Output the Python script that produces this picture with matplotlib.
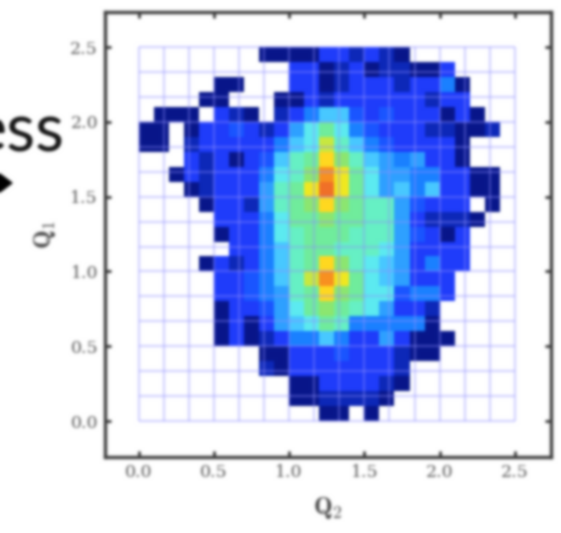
import numpy as np
import matplotlib
matplotlib.use('Agg')
import matplotlib.pyplot as plt
from matplotlib.colors import ListedColormap
from matplotlib.patches import Polygon

# histogram levels, top row (Q1 = 2.5) first, 0 = empty bin
counts = [
    [0,0,0,0,0,0,0,0,1,1,1,1,3,3,2,3,2,1,0,0,0,0,0,0,0],
    [0,0,0,0,0,0,0,0,0,0,3,3,1,2,3,1,2,2,1,1,3,0,0,0,0],
    [0,0,0,0,0,1,1,0,0,0,3,3,1,2,3,3,3,2,3,3,5,1,0,0,0],
    [0,0,0,0,1,1,0,0,0,1,1,3,2,3,3,3,3,3,3,2,3,3,0,0,0],
    [0,1,1,1,0,3,2,1,0,2,3,5,7,7,4,3,4,3,3,3,1,3,1,0,0],
    [1,1,0,1,3,3,4,3,2,3,6,8,10,8,5,4,3,3,3,2,2,1,1,2,0],
    [1,1,0,2,3,3,3,3,3,5,7,8,12,9,7,5,4,3,3,3,3,1,0,0,0],
    [0,0,0,3,2,3,1,3,4,7,9,10,14,11,9,7,6,5,6,3,3,1,0,0,0],
    [0,0,1,3,2,3,3,3,5,8,9,11,16,13,10,8,6,6,5,5,3,3,1,1,0],
    [0,0,0,1,2,3,3,3,6,9,10,13,17,13,10,8,6,7,5,7,3,3,1,1,0],
    [0,0,0,0,1,3,3,2,6,9,10,11,14,11,10,9,9,6,4,3,3,3,0,1,0],
    [0,0,0,0,0,3,3,3,5,8,10,10,11,10,10,9,9,6,3,2,2,2,1,0,0],
    [0,0,0,0,0,1,3,3,5,8,9,10,10,10,9,9,9,6,4,3,1,3,0,0,0],
    [0,0,0,0,0,0,3,3,5,7,9,10,10,9,9,9,8,6,3,3,3,3,0,0,0],
    [0,0,0,0,1,3,2,3,5,7,9,10,14,11,9,8,7,6,3,5,3,3,0,0,0],
    [0,0,0,0,0,3,3,4,5,7,9,12,16,13,10,8,7,6,3,3,3,0,0,0,0],
    [0,0,0,0,0,3,3,4,5,6,9,10,14,11,10,8,8,4,5,5,3,0,0,0,0],
    [0,0,0,0,0,1,3,3,4,6,8,10,11,10,9,8,6,3,3,2,0,0,0,0,0],
    [0,0,0,0,0,1,3,1,3,6,7,8,10,9,5,5,5,5,5,1,0,0,0,0,0],
    [0,0,0,0,0,1,3,1,2,3,5,5,7,5,3,3,6,3,1,1,1,0,0,0,0],
    [0,0,0,0,0,0,0,0,1,1,3,3,3,4,3,3,3,2,1,1,0,0,0,0,0],
    [0,0,0,0,0,0,0,0,2,1,3,3,3,3,3,3,3,2,0,0,0,0,0,0,0],
    [0,0,0,0,0,0,0,0,0,0,1,1,3,3,3,3,2,1,0,0,0,0,0,0,0],
    [0,0,0,0,0,0,0,0,0,0,1,1,2,2,2,2,1,0,0,0,0,0,0,0,0],
    [0,0,0,0,0,0,0,0,0,0,0,0,1,1,0,1,0,0,0,0,0,0,0,0,0],
]
tick_vals = [0.0, 0.5, 1.0, 1.5, 2.0, 2.5]
tick_labels = ['0.0', '0.5', '1.0', '1.5', '2.0', '2.5']

level_colors = ['#08168a', '#0d28b8', '#1f3cfa', '#1a55ff', '#1a80ff', '#2ea0ff',
                '#48c8ff', '#5ceaf0', '#66f0c4', '#70ec9c', '#8ce670', '#c8e840',
                '#f0e820', '#ffd820', '#ffb020', '#f89020', '#f07028']


def blur(image, dpi):
    # small gaussian, the reference is a soft upscaled screenshot
    xs = np.arange(-4, 5)
    kern = np.exp(-xs**2 / (2 * 1.5**2))
    kern = kern / kern.sum()
    pad = np.pad(image, ((4, 4), (4, 4), (0, 0)), mode='edge')
    out = np.apply_along_axis(lambda v: np.convolve(v, kern, mode='same'), 0, pad)
    out = np.apply_along_axis(lambda v: np.convolve(v, kern, mode='same'), 1, out)
    return out[4:-4, 4:-4], 0, 0


plt.rcParams['mathtext.fontset'] = 'cm'

fig = plt.figure(figsize=(5.61, 5.33), dpi=100)
ax = fig.add_axes([105 / 561, (533 - 457) / 533, 446 / 561, 445 / 533])

data = np.ma.masked_equal(np.array(counts)[::-1], 0)
edges = np.linspace(0, 2.5, 26)
cmap = ListedColormap(level_colors)
ax.pcolormesh(edges, edges, data, cmap=cmap, vmin=0.5, vmax=17.5, zorder=1)

# lavender guide grid over the bins
grid = np.linspace(0, 2.5, 16)
ax.vlines(grid, 0, 2.5, color='#9090ff', alpha=0.4, lw=1.6, zorder=2)
ax.hlines(grid, 0, 2.5, color='#9090ff', alpha=0.4, lw=1.6, zorder=2)

ax.set_xlim(-0.223, 2.74)
ax.set_ylim(-0.24, 2.734)
ax.set_xticks(tick_vals)
ax.set_xticklabels(tick_labels)
ax.set_yticks(tick_vals)
ax.set_yticklabels(tick_labels)
ax.tick_params(direction='in', top=True, right=True, length=4, width=2,
               color='#333333', labelcolor='#555555', labelsize=12.5, pad=5)
for lab in ax.get_xticklabels() + ax.get_yticklabels():
    lab.set_family('DejaVu Serif')
for sp in ax.spines.values():
    sp.set_linewidth(2.4)
    sp.set_color('#3c3c3c')
ax.set_xlabel(r'$\mathbf{Q_2}$', fontsize=18, color='#444444', labelpad=10)
ax.set_ylabel(r'$\mathbf{Q_1}$', fontsize=18, color='#444444', labelpad=9)

# leftovers of the slide behind the chart
fig.text(64 / 561, (533 - 152) / 533, 'ess', family='Lato', fontsize=48,
         color='#151515', ha='right', va='baseline')
fig.add_artist(Polygon([(0, (533 - 174) / 533), (12 / 561, (533 - 183) / 533), (0, (533 - 192) / 533)],
                       closed=True, transform=fig.transFigure, color='black'))

fig.set_agg_filter(blur)
fig.savefig('out.png', dpi=100)
